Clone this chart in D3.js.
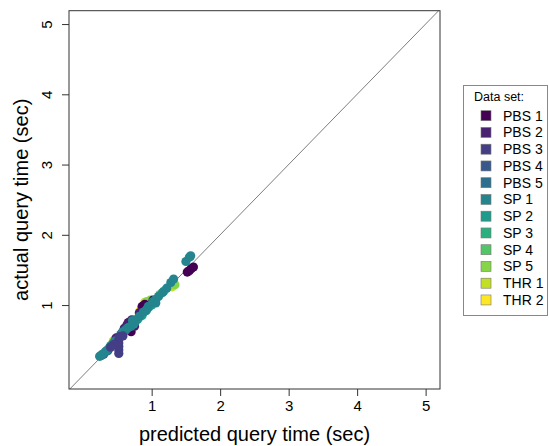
<!DOCTYPE html>
<html>
<head>
<meta charset="utf-8">
<script src="https://cdn.jsdelivr.net/npm/d3@7"></script>
<style>
  body { margin: 0; background: #fff; }
  text { font-family: "Liberation Sans", Arial, sans-serif; fill: #000; }
</style>
</head>
<body>
<div id="chart"></div>
<script>
// series names (legend order)
const seriesNames = ['PBS 1', 'PBS 2', 'PBS 3', 'PBS 4', 'PBS 5',
    'SP 1', 'SP 2', 'SP 3', 'SP 4', 'SP 5', 'THR 1', 'THR 2'];

// [predicted, actual] pairs per data set
const pbs1 = [[1.52, 1.47], [1.55, 1.49], [1.58, 1.52], [1.61, 1.54], [0.86, 0.98], [0.90, 1.01], [0.66, 0.75], [1.02, 1.07], [0.70, 0.62]];
const pbs2 = [[0.64, 0.72], [0.68, 0.76], [0.71, 0.79], [0.60, 0.67], [0.82, 0.89], [0.48, 0.53], [0.75, 0.70]];
const pbs3 = [[0.52, 0.31], [0.52, 0.36], [0.52, 0.41], [0.52, 0.46], [0.52, 0.51], [0.53, 0.55], [0.45, 0.44], [0.40, 0.40], [0.58, 0.56]];
const pbs4 = [[0.30, 0.30], [0.36, 0.35], [0.42, 0.43], [0.48, 0.50], [0.56, 0.60]];
const pbs5 = [[0.26, 0.28], [0.32, 0.33], [0.38, 0.39], [0.44, 0.46], [0.58, 0.62], [0.62, 0.64]];
const sp1 = [[0.24, 0.27], [0.28, 0.30], [0.34, 0.35], [0.40, 0.42], [0.46, 0.48], [0.55, 0.58],
    [0.62, 0.65], [0.70, 0.70], [0.76, 0.76], [0.82, 0.84], [0.88, 0.90], [0.95, 0.98], [1.02, 1.05],
    [1.10, 1.12], [1.16, 1.18], [1.22, 1.24], [1.28, 1.32], [1.32, 1.37], [1.50, 1.62], [1.55, 1.68], [1.57, 1.70],
    [0.72, 0.78], [0.92, 0.92], [1.06, 1.03]];
const sp2 = [[0.58, 0.61], [0.66, 0.68], [0.74, 0.73], [0.80, 0.80], [0.86, 0.85], [0.93, 0.94], [1.00, 1.00], [1.06, 1.08]];
const sp3 = [[0.50, 0.54], [0.72, 0.74], [0.96, 0.97], [1.18, 1.20]];
const sp4 = [[0.27, 0.29], [0.56, 0.58], [0.78, 0.80], [1.12, 1.15]];
const sp5 = [[0.93, 1.05], [0.98, 1.07], [1.34, 1.29], [0.84, 0.91], [0.62, 0.66]];
const thr1 = [[0.90, 1.04], [1.30, 1.26], [0.44, 0.49]];
const thr2 = [[0.83, 0.92], [0.44, 0.48]];
const seriesValues = [pbs1, pbs2, pbs3, pbs4, pbs5, sp1, sp2, sp3, sp4, sp5, thr1, thr2];

// order the data sets were plotted in (later ones on top)
const drawOrder = ['THR 2', 'THR 1', 'SP 5', 'SP 4', 'SP 3', 'PBS 1', 'PBS 2', 'PBS 4', 'PBS 5', 'SP 2', 'SP 1', 'PBS 3'];

const axisTicks = [1, 2, 3, 4, 5];
const xDomain = [-0.207, 5.21];
const yDomain = [-0.195, 5.19];

const width = 549;
const height = 446;
const plot = { left: 69, right: 440, top: 10.7, bottom: 389 };

const svg = d3.select('#chart').append('svg')
    .attr('width', width)
    .attr('height', height);

const x = d3.scaleLinear().domain(xDomain).range([plot.left, plot.right]);
const y = d3.scaleLinear().domain(yDomain).range([plot.bottom, plot.top]);
const colour = d3.scaleOrdinal(seriesNames, d3.quantize(d3.interpolateViridis, seriesNames.length));

svg.append('defs').append('clipPath').attr('id', 'clip')
    .append('rect')
    .attr('x', plot.left).attr('y', plot.top)
    .attr('width', plot.right - plot.left).attr('height', plot.bottom - plot.top);

// identity line
svg.append('line')
    .attr('clip-path', 'url(#clip)')
    .attr('x1', x(-1)).attr('y1', y(-1))
    .attr('x2', x(6)).attr('y2', y(6))
    .attr('stroke', '#6e6e6e')
    .attr('stroke-width', 0.9);

// points
const pts = svg.append('g').attr('clip-path', 'url(#clip)');
drawOrder.forEach(name => {
    const i = seriesNames.indexOf(name);
    pts.selectAll(null)
        .data(seriesValues[i])
        .enter()
        .append('circle')
        .attr('cx', d => x(d[0]))
        .attr('cy', d => y(d[1]))
        .attr('r', 4.6)
        .attr('fill', colour(name));
});

// frame
svg.append('rect')
    .attr('x', plot.left).attr('y', plot.top)
    .attr('width', plot.right - plot.left).attr('height', plot.bottom - plot.top)
    .attr('fill', 'none')
    .attr('stroke', '#333')
    .attr('stroke-width', 1);

// axes
const xAxis = svg.append('g')
    .attr('transform', `translate(0,${plot.bottom})`)
    .call(d3.axisBottom(x).tickValues(axisTicks).tickSize(7).tickPadding(4).tickFormat(d3.format('d')));
xAxis.select('.domain').remove();
xAxis.selectAll('line').attr('stroke', '#333');
xAxis.selectAll('text').style('font-size', '15px').attr('dy', '0.71em');

const yAxis = svg.append('g')
    .attr('transform', `translate(${plot.left},0)`)
    .call(d3.axisLeft(y).tickValues(axisTicks).tickSize(7).tickFormat(d3.format('d')));
yAxis.select('.domain').remove();
yAxis.selectAll('line').attr('stroke', '#333');
yAxis.selectAll('text')
    .style('font-size', '15px')
    .attr('x', null).attr('dy', null)
    .attr('text-anchor', 'middle')
    .attr('transform', 'translate(-17,0) rotate(-90)');

svg.append('text')
    .attr('x', (plot.left + plot.right) / 2)
    .attr('y', 441)
    .attr('text-anchor', 'middle')
    .style('font-size', '20px')
    .text('predicted query time (sec)');

svg.append('text')
    .attr('transform', `translate(28,${(plot.top + plot.bottom) / 2}) rotate(-90)`)
    .attr('text-anchor', 'middle')
    .style('font-size', '20px')
    .text('actual query time (sec)');

// legend
const legend = svg.append('g');
legend.append('rect')
    .attr('x', 463.5).attr('y', 85.5)
    .attr('width', 84).attr('height', 230)
    .attr('fill', '#fff')
    .attr('stroke', '#888');
legend.append('text')
    .attr('x', 474).attr('y', 101)
    .style('font-size', '12.5px')
    .text('Data set:');
const items = legend.selectAll('.item')
    .data(seriesNames)
    .enter()
    .append('g')
    .attr('class', 'item')
    .attr('transform', (d, i) => `translate(0,${115.7 + i * 16.75})`);
items.append('rect')
    .attr('x', 481).attr('y', -5)
    .attr('width', 10).attr('height', 10)
    .attr('fill', d => colour(d))
    .attr('stroke', '#777')
    .attr('stroke-width', 0.6);
items.append('text')
    .attr('x', 503).attr('y', 5)
    .style('font-size', '14px')
    .text(d => d);
</script>
</body>
</html>
